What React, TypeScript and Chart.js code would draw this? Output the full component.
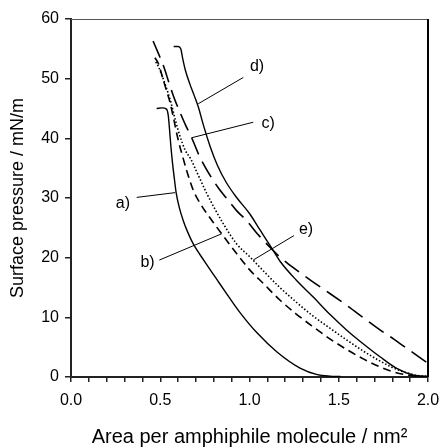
import React, { useEffect, useRef } from 'react';
import { Chart, registerables } from 'chart.js';
Chart.register(...registerables);

const FONT = "'Liberation Sans', Arial, sans-serif";

// Isotherm curves: [area (nm^2), surface pressure (mN/m)]
const seriesA: [number, number][] = [
  [0.48, 45.0], [0.51, 45.1], [0.535, 44.9], [0.545, 43.8], [0.552, 41.5], [0.56, 38.5], [0.57, 35.5],
  [0.58, 33.0], [0.589, 30.9], [0.605, 28.6], [0.629, 26.2], [0.655, 24.2], [0.685, 22.3], [0.75, 19.3],
  [0.825, 16.0], [0.885, 13.4], [0.947, 10.8], [1.042, 7.4], [1.154, 4.2], [1.283, 1.5], [1.38, 0.4],
  [1.45, 0.15], [1.51, 0.1],
];
const seriesB: [number, number][] = [
  [0.47, 53.5], [0.49, 52.5], [0.51, 50.5], [0.53, 48.5], [0.555, 46.0], [0.575, 43.3], [0.6, 39.8],
  [0.625, 37.0], [0.648, 34.6], [0.685, 31.3], [0.732, 28.7], [0.79, 26.2], [0.844, 24.0], [0.93, 20.6],
  [1.0, 18.0], [1.08, 15.6], [1.17, 12.9], [1.26, 10.6], [1.357, 8.4], [1.45, 6.4], [1.545, 4.6],
  [1.64, 3.0], [1.73, 1.7], [1.8, 0.9], [1.87, 0.4], [1.95, 0.1], [2.0, 0.05],
];
const seriesC: [number, number][] = [
  [0.46, 56.3], [0.49, 54.2], [0.52, 52.0], [0.55, 49.2], [0.58, 46.6], [0.61, 44.4], [0.645, 42.0],
  [0.676, 40.1], [0.72, 37.0], [0.779, 33.8], [0.83, 31.5], [0.881, 29.6], [0.93, 27.8], [0.984, 26.2],
  [1.05, 23.8], [1.133, 21.2], [1.171, 20.1], [1.26, 18.0], [1.357, 15.9], [1.45, 14.0], [1.545, 12.0],
  [1.64, 9.9], [1.731, 7.9], [1.806, 6.4], [1.9, 4.4], [2.0, 2.3],
];
const seriesD: [number, number][] = [
  [0.575, 55.4], [0.6, 55.4], [0.615, 55.0], [0.625, 53.5], [0.64, 51.5], [0.667, 49.0], [0.69, 47.2],
  [0.713, 45.3], [0.741, 42.3], [0.78, 38.6], [0.82, 35.5], [0.87, 32.6], [0.93, 30.0], [1.0, 27.4],
  [1.06, 24.6], [1.12, 21.8], [1.171, 19.4], [1.26, 16.3], [1.357, 13.4], [1.45, 10.5], [1.545, 7.85],
  [1.64, 5.5], [1.731, 3.4], [1.825, 1.45], [1.92, 0.3], [2.0, 0.1],
];
const seriesE: [number, number][] = [
  [0.475, 52.8], [0.49, 52.0], [0.51, 50.5], [0.535, 48.4], [0.56, 46.0], [0.585, 43.0], [0.61, 40.4],
  [0.64, 38.0], [0.67, 36.6], [0.704, 34.4], [0.76, 30.8], [0.8, 28.5], [0.853, 25.7], [0.928, 22.3],
  [1.0, 20.2], [1.09, 17.4], [1.17, 15.0], [1.26, 12.6], [1.357, 10.2], [1.45, 8.2], [1.545, 6.2],
  [1.64, 4.3], [1.73, 2.7], [1.8, 1.6], [1.87, 0.8], [1.95, 0.2], [2.0, 0.1],
];

// Curve labels and their leader lines (data coordinates)
const labelTexts = ['a)', 'b)', 'c)', 'd)', 'e)'];
const labelPos: [number, number][] = [[0.291, 29.1], [0.429, 19.2], [1.104, 42.4], [1.042, 52.1], [1.317, 24.7]];
const leaderFrom: [number, number][] = [[0.368, 30.1], [0.495, 19.6], [1.021, 42.7], [0.965, 50.2], [1.249, 23.7]];
const leaderTo: [number, number][] = [[0.583, 30.9], [0.844, 24.0], [0.676, 40.1], [0.713, 45.8], [1.021, 19.6]];

const xTitle = 'Area per amphiphile molecule / nm\u00B2';
const yTitle = 'Surface pressure / mN/m';

const toPts = (s: [number, number][]) => s.map(([x, y]) => ({ x, y }));

export default function App() {
  const ref = useRef<HTMLCanvasElement>(null);
  useEffect(() => {
    const annot = {
      id: 'annot',
      afterDatasetsDraw(chart: any) {
        const { ctx, scales } = chart;
        const xs = scales.x, ys = scales.y;
        ctx.save();
        ctx.strokeStyle = '#000';
        ctx.lineWidth = 1;
        leaderFrom.forEach((f, i) => {
          const t = leaderTo[i];
          ctx.beginPath();
          ctx.moveTo(xs.getPixelForValue(f[0]), ys.getPixelForValue(f[1]));
          ctx.lineTo(xs.getPixelForValue(t[0]), ys.getPixelForValue(t[1]));
          ctx.stroke();
        });
        ctx.fillStyle = '#000';
        ctx.font = `16px ${FONT}`;
        ctx.textAlign = 'center';
        ctx.textBaseline = 'middle';
        labelTexts.forEach((t, i) => {
          ctx.fillText(t, xs.getPixelForValue(labelPos[i][0]), ys.getPixelForValue(labelPos[i][1]));
        });
        ctx.restore();
      },
    };
    const frame = {
      id: 'frame',
      afterDraw(chart: any) {
        const { ctx, chartArea: a } = chart;
        ctx.save();
        ctx.strokeStyle = '#555';
        ctx.lineWidth = 1;
        ctx.beginPath();
        ctx.moveTo(a.left, a.top + 0.5);
        ctx.lineTo(a.right, a.top + 0.5);
        ctx.stroke();
        ctx.strokeStyle = '#000';
        ctx.lineWidth = 2;
        ctx.beginPath();
        ctx.moveTo(a.right, a.top);
        ctx.lineTo(a.right, a.bottom);
        ctx.stroke();
        ctx.restore();
      },
    };
    const mk = (data: [number, number][], dash: number[], width = 1.4) => ({
      data: toPts(data),
      borderColor: '#000',
      borderWidth: width,
      borderDash: dash,
      pointRadius: 0,
      cubicInterpolationMode: 'monotone',
      fill: false,
    });
    const chart = new Chart(ref.current!, {
      type: 'line',
      data: {
        datasets: [
          mk(seriesA, []),
          mk(seriesB, [8, 5], 1.6),
          mk(seriesC, [18, 8], 1.6),
          mk(seriesD, []),
          mk(seriesE, [1.5, 2], 1.6),
        ] as any,
      },
      options: {
        animation: false,
        responsive: false,
        layout: { padding: { left: 0, right: 13, top: 19, bottom: 0 } },
        plugins: { legend: { display: false }, tooltip: { enabled: false } },
        scales: {
          x: {
            type: 'linear',
            min: 0,
            max: 2,
            border: { display: true, color: '#222', width: 2 },
            grid: { drawOnChartArea: false, drawTicks: true, tickLength: 5, color: '#222', lineWidth: 1.5 },
            ticks: {
              stepSize: 0.1,
              autoSkip: false,
              maxRotation: 0,
              color: '#000',
              padding: 9,
              font: { family: FONT, size: 16 },
              callback: (v: any) => {
                const r = Math.round(Number(v) * 10);
                return r % 5 === 0 ? (r / 10).toFixed(1) : '';
              },
            },
            title: {
              display: true,
              text: xTitle,
              color: '#000',
              font: { family: FONT, size: 20, lineHeight: 1 },
              padding: { top: 0, bottom: 1 },
            },
            afterFit: (s: any) => { s.height = 71; s.paddingLeft = 0; s.paddingRight = 0; },
          },
          y: {
            min: 0,
            max: 60,
            border: { display: true, color: '#222', width: 2 },
            grid: { drawOnChartArea: false, drawTicks: true, tickLength: 6, color: '#222', lineWidth: 1.5 },
            ticks: { stepSize: 10, color: '#000', padding: 6, font: { family: FONT, size: 16 } },
            title: {
              display: true,
              text: yTitle,
              color: '#000',
              font: { family: FONT, size: 18, lineHeight: 1 },
              padding: { top: 9, bottom: 0 },
            },
            afterFit: (s: any) => { s.width = 71; s.paddingTop = 0; s.paddingBottom = 0; },
          },
        },
      } as any,
      plugins: [annot, frame],
    });
    return () => chart.destroy();
  }, []);
  return (
    <div style={{ position: 'absolute', left: 0, top: 0, width: 441, height: 448, background: '#fff' }}>
      <canvas ref={ref} width={441} height={448} style={{ display: 'block' }} />
    </div>
  );
}
